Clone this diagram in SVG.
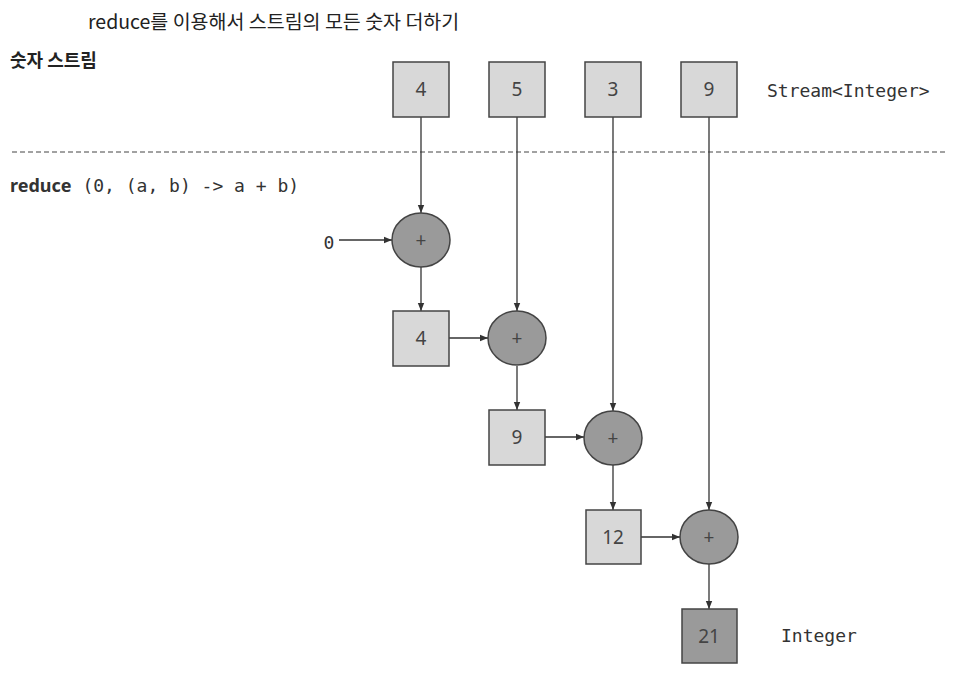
<svg xmlns="http://www.w3.org/2000/svg" width="957" height="688" viewBox="0 0 957 688">
<defs>
<marker id="ah" viewBox="0 0 10 10" refX="10" refY="5" markerWidth="10" markerHeight="8" markerUnits="userSpaceOnUse" orient="auto">
<path d="M0,1 L10,5 L0,9 z" fill="#333"/>
</marker>
<style>
.box{fill:#d8d8d8;stroke:#444;stroke-width:1.5}
.dark{fill:#9a9a9a;stroke:#444;stroke-width:1.5}
.num{font-family:"Noto Sans","Liberation Sans",sans-serif;font-size:19px;fill:#444;text-anchor:middle;dominant-baseline:central}
.plus{font-family:"Noto Sans","Liberation Sans",sans-serif;font-size:19px;fill:#444;text-anchor:middle;dominant-baseline:central}
.mono{font-family:"DejaVu Sans Mono","Liberation Mono",monospace;font-size:18px;fill:#333}
.kr{font-family:"Noto Sans CJK KR","Noto Sans",sans-serif;fill:#222}
.edge{stroke:#333;stroke-width:1.3;fill:none;marker-end:url(#ah)}
</style>
</defs>
<rect width="957" height="688" fill="#fff"/>
<text x="88" y="29" class="kr" font-size="19.5">reduce를 이용해서 스트림의 모든 숫자 더하기</text>
<text x="10" y="67" class="kr" font-size="18" font-weight="bold">숫자 스트림</text>
<line x1="12" y1="152" x2="946" y2="152" stroke="#444" stroke-width="1" stroke-dasharray="5,3"/>
<text x="10" y="192" class="mono" font-size="19.5"><tspan font-weight="bold" font-family="Noto Sans, Liberation Sans, sans-serif">reduce</tspan> (0, (a, b) -&gt; a + b)</text>
<text x="767" y="97" class="mono">Stream&lt;Integer&gt;</text>
<text x="781" y="642" class="mono">Integer</text>
<text x="329" y="242" class="mono" text-anchor="middle" dominant-baseline="central" font-size="17">0</text>

<g id="connectors">
<path class="edge" d="M421,117 V213"/>
<path class="edge" d="M517,117 V311"/>
<path class="edge" d="M613,117 V411"/>
<path class="edge" d="M709,117 V510"/>
<path class="edge" d="M339,240 H392"/>
<path class="edge" d="M421,267 V311"/>
<path class="edge" d="M449,338 H488"/>
<path class="edge" d="M517,366 V410"/>
<path class="edge" d="M545,437 H584"/>
<path class="edge" d="M613,465 V510"/>
<path class="edge" d="M641,537 H680"/>
<path class="edge" d="M709,564 V609"/>
</g>

<g id="s4"><rect class="box" x="393" y="62" width="56" height="55"/><text class="num" x="421" y="89">4</text></g>
<g id="s5"><rect class="box" x="489" y="62" width="56" height="55"/><text class="num" x="517" y="89">5</text></g>
<g id="s3"><rect class="box" x="585" y="62" width="56" height="55"/><text class="num" x="613" y="89">3</text></g>
<g id="s9"><rect class="box" x="681" y="62" width="56" height="55"/><text class="num" x="709" y="89">9</text></g>

<g id="p1"><ellipse class="dark" cx="421" cy="240" rx="29" ry="27"/><text class="plus" x="421" y="240">+</text></g>
<g id="r4"><rect class="box" x="393" y="311" width="56" height="55"/><text class="num" x="421" y="338">4</text></g>
<g id="p2"><ellipse class="dark" cx="517" cy="338" rx="29" ry="27"/><text class="plus" x="517" y="338">+</text></g>
<g id="r9"><rect class="box" x="489" y="410" width="56" height="55"/><text class="num" x="517" y="437">9</text></g>
<g id="p3"><ellipse class="dark" cx="613" cy="438" rx="29" ry="27"/><text class="plus" x="613" y="438">+</text></g>
<g id="r12"><rect class="box" x="586" y="510" width="55" height="54"/><text class="num" x="613" y="537">12</text></g>
<g id="p4"><ellipse class="dark" cx="709" cy="537" rx="29" ry="27"/><text class="plus" x="709" y="537">+</text></g>
<g id="r21"><rect class="dark" x="682" y="609" width="55" height="54"/><text class="num" x="709" y="636">21</text></g>
</svg>
